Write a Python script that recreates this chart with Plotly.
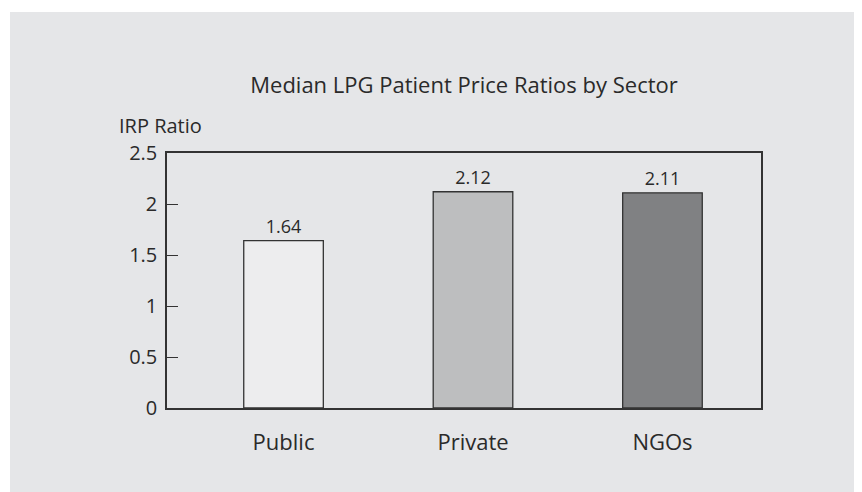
import plotly.graph_objects as go

sectors = ["Public", "Private", "NGOs"]
ratios = [1.64, 2.12, 2.11]
value_labels = ["1.64", "2.12", "2.11"]
bar_colors = ["#ededee", "#bdbebf", "#808183"]
y_tickvals = [0, 0.5, 1, 1.5, 2, 2.5]
y_ticktext = ["0", "0.5", "1", "1.5", "2", "2.5"]

FONT = "Open Sans"
INK = "#2a2a2a"

# the page body adds 8px on the top/left, so the figure is laid out 8px up/left
# and made 8px smaller so it fits the window
fig = go.Figure()
fig.add_trace(go.Bar(
    x=sectors,
    y=ratios,
    width=0.42,
    marker=dict(color=bar_colors, line=dict(color="#333333", width=1.3)),
    text=value_labels,
    textposition="outside",
    textfont=dict(family=FONT, size=18, color=INK),
    cliponaxis=False,
    hoverinfo="x+y",
))

# grey panel behind the whole chart
fig.add_shape(
    type="rect", xref="paper", yref="paper",
    x0=(2 - 159) / 594, x1=1.3, y0=-0.6, y1=(400 - 4) / 255,
    fillcolor="#e5e6e8", line=dict(width=0), layer="below",
)

fig.update_layout(
    width=854,
    height=484,
    paper_bgcolor="white",
    plot_bgcolor="white",
    showlegend=False,
    font=dict(family=FONT, size=20, color=INK),
    margin=dict(l=159, r=101, t=145, b=84),
    title=dict(
        text="Median LPG Patient Price Ratios by Sector",
        x=456 / 854, xanchor="center",
        y=1 - 77 / 484, yanchor="middle",
        font=dict(family=FONT, size=22, color=INK),
    ),
    xaxis=dict(
        range=[-0.615, 2.52],
        showline=True, linecolor="#333333", linewidth=1.5, mirror=True,
        ticks="", showgrid=False,
        tickfont=dict(family=FONT, size=22, color=INK),
        ticklabelstandoff=14,
    ),
    yaxis=dict(
        range=[0, 2.5],
        tickvals=y_tickvals, ticktext=y_ticktext,
        showline=True, linecolor="#333333", linewidth=1.5, mirror=True,
        ticks="inside", ticklen=11, tickwidth=1.3, tickcolor="#333333",
        showgrid=False, zeroline=False,
        tickfont=dict(family=FONT, size=20, color=INK),
        ticklabelstandoff=4,
    ),
    annotations=[dict(
        text="IRP Ratio", xref="paper", yref="paper",
        x=(109 - 159) / 594, y=(400 - 118) / 255,
        xanchor="left", yanchor="middle", showarrow=False,
        font=dict(family=FONT, size=20, color=INK),
    )],
)

fig.write_html("out.html")
